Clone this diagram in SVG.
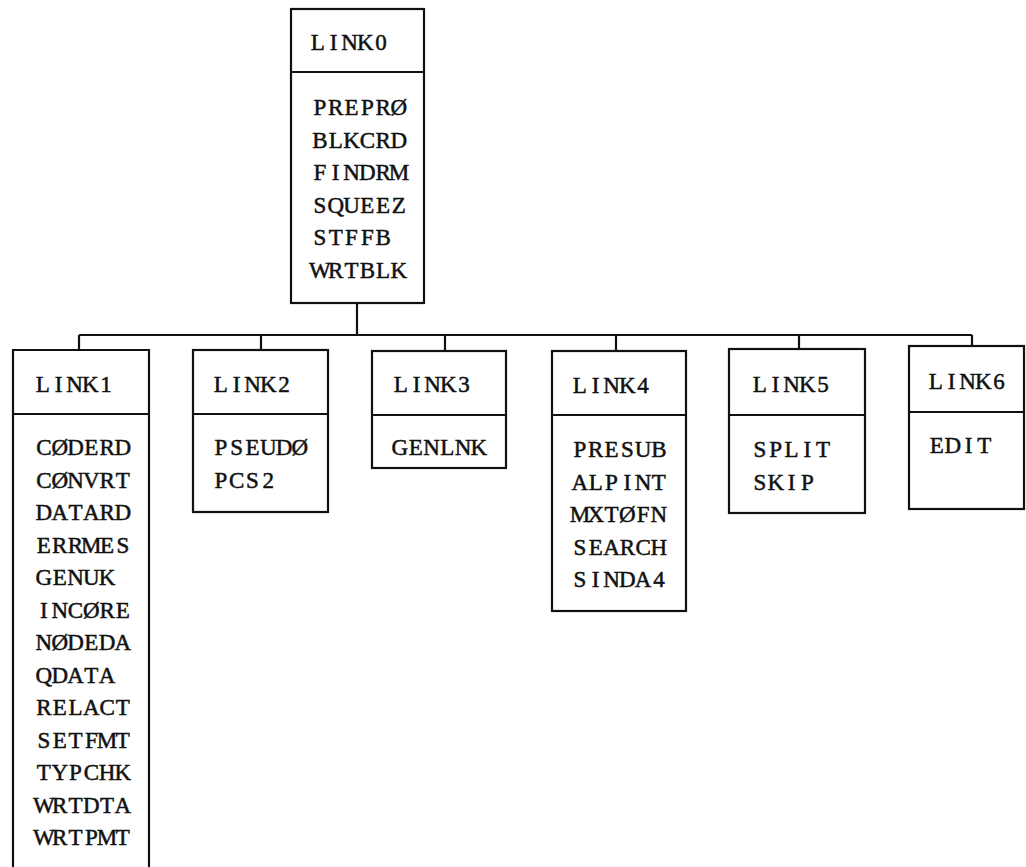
<svg xmlns="http://www.w3.org/2000/svg" width="1026" height="867" viewBox="0 0 1026 867">
<style>
.box{fill:none;stroke:#111;stroke-width:2.2}
.ln{fill:none;stroke:#111;stroke-width:2.2}
text{font-family:"Liberation Serif","Times New Roman",serif;font-size:23px;fill:#111;stroke:#111;stroke-width:0.5;text-anchor:middle}
</style>
<rect width="1026" height="867" fill="#fff"/>
<g id="connectors">
<path class="ln" d="M357,303 V335 M79,335 H972 M79,335 V350 M261,335 V350 M445,335 V351 M616,335 V351 M799,335 V349 M972,335 V346"/>
</g>
<g id="link0">
<rect class="box" x="291" y="9" width="133" height="294"/>
<line class="ln" x1="291" y1="72" x2="424" y2="72"/>
<text x="317.9 333.7 349.5 365.3 381.1" y="50">LINK0</text>
<text x="319.9 335.7 351.5 367.3 383.1 398.9" y="115">PREPRØ</text>
<text x="319.9 335.7 351.5 367.3 383.1 398.9" y="147.6">BLKCRD</text>
<text x="319.9 335.7 351.5 367.3 383.1 398.9" y="180.2">FINDRM</text>
<text x="319.9 335.7 351.5 367.3 383.1 398.9" y="212.8">SQUEEZ</text>
<text x="319.9 335.7 351.5 367.3 383.1 398.9" y="245.4">STFFB</text>
<text x="319.9 335.7 351.5 367.3 383.1 398.9" y="278">WRTBLK</text>
</g>
<g id="link1">
<path class="box" d="M13,870 V350 H149 V870"/>
<line class="ln" x1="13" y1="414" x2="149" y2="414"/>
<text x="42.9 58.7 74.5 90.3 106.1" y="392">LINK1</text>
<text x="43.9 59.7 75.5 91.3 107.1 122.9" y="455">CØDERD</text>
<text x="43.9 59.7 75.5 91.3 107.1 122.9" y="487.5">CØNVRT</text>
<text x="43.9 59.7 75.5 91.3 107.1 122.9" y="520">DATARD</text>
<text x="43.9 59.7 75.5 91.3 107.1 122.9" y="552.5">ERRMES</text>
<text x="43.9 59.7 75.5 91.3 107.1 122.9" y="585">GENUK</text>
<text x="43.9 59.7 75.5 91.3 107.1 122.9" y="617.5">INCØRE</text>
<text x="43.9 59.7 75.5 91.3 107.1 122.9" y="650">NØDEDA</text>
<text x="43.9 59.7 75.5 91.3 107.1 122.9" y="682.5">QDATA</text>
<text x="43.9 59.7 75.5 91.3 107.1 122.9" y="715">RELACT</text>
<text x="43.9 59.7 75.5 91.3 107.1 122.9" y="747.5">SETFMT</text>
<text x="43.9 59.7 75.5 91.3 107.1 122.9" y="780">TYPCHK</text>
<text x="43.9 59.7 75.5 91.3 107.1 122.9" y="812.5">WRTDTA</text>
<text x="43.9 59.7 75.5 91.3 107.1 122.9" y="845">WRTPMT</text>
</g>
<g id="link2">
<rect class="box" x="193" y="350" width="135" height="162"/>
<line class="ln" x1="193" y1="414" x2="328" y2="414"/>
<text x="220.9 236.7 252.5 268.3 284.1" y="392">LINK2</text>
<text x="220.9 236.7 252.5 268.3 284.1 299.9" y="455">PSEUDØ</text>
<text x="220.9 236.7 252.5 268.3" y="487.5">PCS2</text>
</g>
<g id="link3">
<rect class="box" x="372" y="351" width="134" height="117"/>
<line class="ln" x1="372" y1="415" x2="506" y2="415"/>
<text x="400.9 416.7 432.5 448.3 464.1" y="392">LINK3</text>
<text x="399.9 415.7 431.5 447.3 463.1 478.9" y="455">GENLNK</text>
</g>
<g id="link4">
<rect class="box" x="552" y="351" width="134" height="260"/>
<line class="ln" x1="552" y1="415" x2="686" y2="415"/>
<text x="579.9 595.7 611.5 627.3 643.1" y="393">LINK4</text>
<text x="579.9 595.7 611.5 627.3 643.1 658.9" y="457">PRESUB</text>
<text x="579.9 595.7 611.5 627.3 643.1 658.9" y="489.5">ALPINT</text>
<text x="579.9 595.7 611.5 627.3 643.1 658.9" y="522">MXTØFN</text>
<text x="579.9 595.7 611.5 627.3 643.1 658.9" y="554.5">SEARCH</text>
<text x="579.9 595.7 611.5 627.3 643.1 658.9" y="587">SINDA4</text>
</g>
<g id="link5">
<rect class="box" x="729" y="349" width="136" height="164"/>
<line class="ln" x1="729" y1="415" x2="865" y2="415"/>
<text x="759.9 775.7 791.5 807.3 823.1" y="392">LINK5</text>
<text x="759.9 775.7 791.5 807.3 823.1" y="457">SPLIT</text>
<text x="759.9 775.7 791.5 807.3" y="489.5">SKIP</text>
</g>
<g id="link6">
<rect class="box" x="909" y="346" width="115" height="163"/>
<line class="ln" x1="909" y1="412" x2="1024" y2="412"/>
<text x="935.9 951.7 967.5 983.3 999.1" y="389">LINK6</text>
<text x="936.9 952.7 968.5 984.3" y="453">EDIT</text>
</g>
</svg>
